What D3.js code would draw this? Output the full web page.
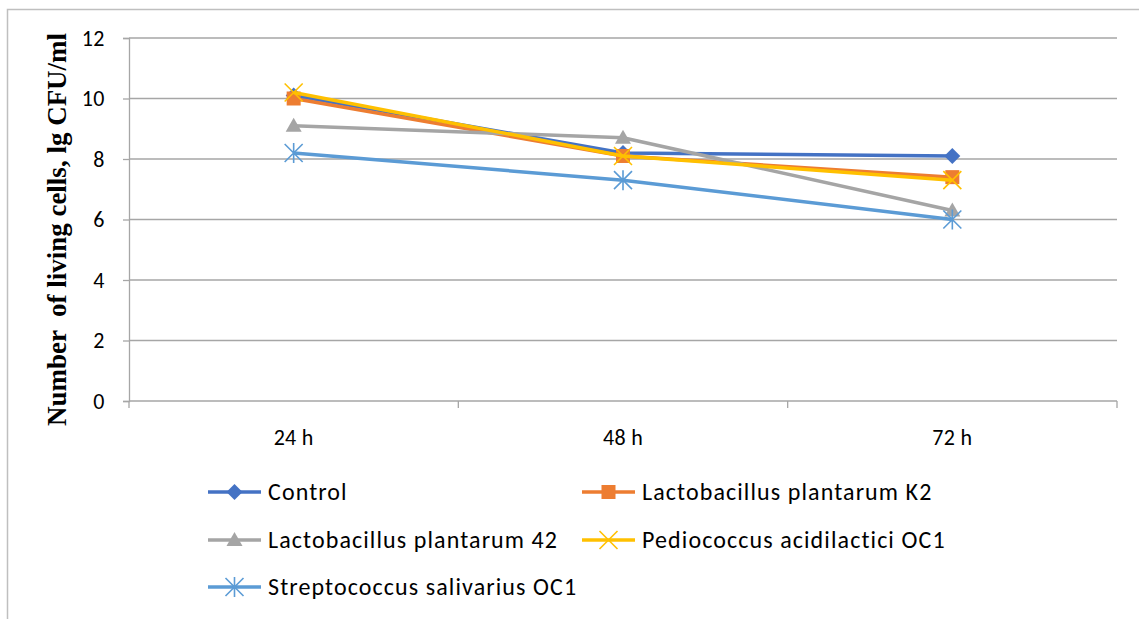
<!DOCTYPE html>
<html>
<head>
<meta charset="utf-8">
<script src="https://cdn.jsdelivr.net/npm/d3@7"></script>
<style>
  body { margin: 0; background: #fff; }
  svg { display: block; }
</style>
</head>
<body>
<div id="chart"></div>
<script>
// data
const categories = ['24 h', '48 h', '72 h'];
const seriesNames = ['Control', 'Lactobacillus plantarum K2', 'Lactobacillus plantarum 42', 'Pediococcus acidilactici OC1', 'Streptococcus salivarius OC1'];
const control = [10.1, 8.2, 8.1];
const plantarumK2 = [10.0, 8.1, 7.4];
const plantarum42 = [9.1, 8.7, 6.3];
const pediococcus = [10.2, 8.1, 7.3];
const streptococcus = [8.2, 7.3, 6.0];
const yTicks = [0, 2, 4, 6, 8, 10, 12];

const seriesValues = [control, plantarumK2, plantarum42, pediococcus, streptococcus];
const colors = ['#4472C4', '#ED7D31', '#A5A5A5', '#FFC000', '#5B9BD5'];
const markers = ['diamond', 'square', 'triangle', 'cross', 'asterisk'];

const width = 1139, height = 619;
const plot = { left: 129, right: 1117, top: 38, bottom: 401 };
const font = 'Carlito, Calibri, "Open Sans", sans-serif';

const svg = d3.select('#chart').append('svg')
  .attr('width', width)
  .attr('height', height);

// outer frame (only left and top show in the picture)
svg.append('path')
  .attr('d', `M7.5,${height} V9.5 H${width}`)
  .attr('fill', 'none')
  .attr('stroke', '#bfbfbf')
  .attr('stroke-width', 1.5);

const x = d3.scaleBand()
  .domain(categories)
  .range([plot.left, plot.right]);

const y = d3.scaleLinear()
  .domain([0, 12])
  .range([plot.bottom, plot.top]);

// gridlines
svg.append('g')
  .selectAll('line')
  .data(yTicks.filter(d => d > 0))
  .join('line')
  .attr('x1', plot.left)
  .attr('x2', plot.right)
  .attr('y1', d => y(d))
  .attr('y2', d => y(d))
  .attr('stroke', '#a6a6a6')
  .attr('stroke-width', 1.3);

// y axis
const yAxis = svg.append('g')
  .attr('transform', `translate(${plot.left},0)`)
  .call(d3.axisLeft(y).tickValues(yTicks).tickSize(6).tickPadding(18));
yAxis.select('.domain').attr('stroke', '#a6a6a6').attr('stroke-width', 1.3);
yAxis.selectAll('.tick line').attr('stroke', '#a6a6a6').attr('stroke-width', 1.3);
yAxis.selectAll('.tick text')
  .attr('font-family', font)
  .attr('font-size', 22)
  .attr('letter-spacing', 0.5)
  .attr('fill', '#000');

// x axis (ticks on the band edges)
const xAxis = svg.append('g')
  .attr('transform', `translate(0,${plot.bottom})`);
xAxis.append('line')
  .attr('x1', plot.left).attr('x2', plot.right)
  .attr('stroke', '#a6a6a6').attr('stroke-width', 1.3);
const edges = categories.map(c => x(c)).concat([x(categories[categories.length - 1]) + x.bandwidth()]);
xAxis.selectAll('line.tk')
  .data(edges)
  .join('line')
  .attr('class', 'tk')
  .attr('x1', d => d).attr('x2', d => d)
  .attr('y1', 0).attr('y2', 7)
  .attr('stroke', '#a6a6a6').attr('stroke-width', 1.3);
xAxis.selectAll('text')
  .data(categories)
  .join('text')
  .attr('x', d => x(d) + x.bandwidth() / 2)
  .attr('y', 44)
  .attr('text-anchor', 'middle')
  .attr('font-family', font)
  .attr('font-size', 22)
  .attr('letter-spacing', 0.3)
  .text(d => d);

// y axis title
svg.append('text')
  .attr('transform', `translate(66,${(plot.top + plot.bottom) / 2 + 10}) rotate(-90)`)
  .attr('text-anchor', 'middle')
  .attr('font-family', '"Liberation Serif", "Times New Roman", serif')
  .attr('font-weight', 'bold')
  .attr('font-size', 27)
  .style('white-space', 'pre')
  .text('Number  of living cells, lg CFU/ml');

function drawMarker(g, type, color) {
  if (type === 'diamond') {
    g.append('path').attr('d', 'M0,-8 L8,0 L0,8 L-8,0 Z').attr('fill', color);
  } else if (type === 'square') {
    g.append('rect').attr('x', -7).attr('y', -7).attr('width', 14).attr('height', 14).attr('fill', color);
  } else if (type === 'triangle') {
    g.append('path').attr('d', 'M0,-8 L8,6 L-8,6 Z').attr('fill', color);
  } else if (type === 'cross') {
    g.append('path').attr('d', 'M-9,-9 L9,9 M9,-9 L-9,9').attr('stroke', color).attr('stroke-width', 1.6);
  } else if (type === 'asterisk') {
    g.append('path').attr('d', 'M-9,-9 L9,9 M9,-9 L-9,9 M0,-10 V10').attr('stroke', color).attr('stroke-width', 1.6);
  }
}

const line = d3.line()
  .x((d, i) => x(categories[i]) + x.bandwidth() / 2)
  .y(d => y(d));

seriesValues.forEach((vals, s) => {
  svg.append('path')
    .datum(vals)
    .attr('fill', 'none')
    .attr('stroke', colors[s])
    .attr('stroke-width', 3.5)
    .attr('stroke-linejoin', 'round')
    .attr('d', line);
  vals.forEach((v, i) => {
    const g = svg.append('g')
      .attr('transform', `translate(${x(categories[i]) + x.bandwidth() / 2},${y(v)})`);
    drawMarker(g, markers[s], colors[s]);
  });
});

// legend
const legendPos = [[208, 492], [582, 492], [208, 540], [582, 540], [208, 587]];
seriesNames.forEach((name, s) => {
  const g = svg.append('g').attr('transform', `translate(${legendPos[s][0]},${legendPos[s][1]})`);
  g.append('line')
    .attr('x1', 0).attr('x2', 53)
    .attr('stroke', colors[s])
    .attr('stroke-width', 3.5);
  const m = g.append('g').attr('transform', 'translate(26.5,0)');
  drawMarker(m, markers[s], colors[s]);
  g.append('text')
    .attr('x', 60)
    .attr('y', 8)
    .attr('font-family', font)
    .attr('font-size', 24)
    .attr('letter-spacing', 1.1)
    .text(name);
});
</script>
</body>
</html>
